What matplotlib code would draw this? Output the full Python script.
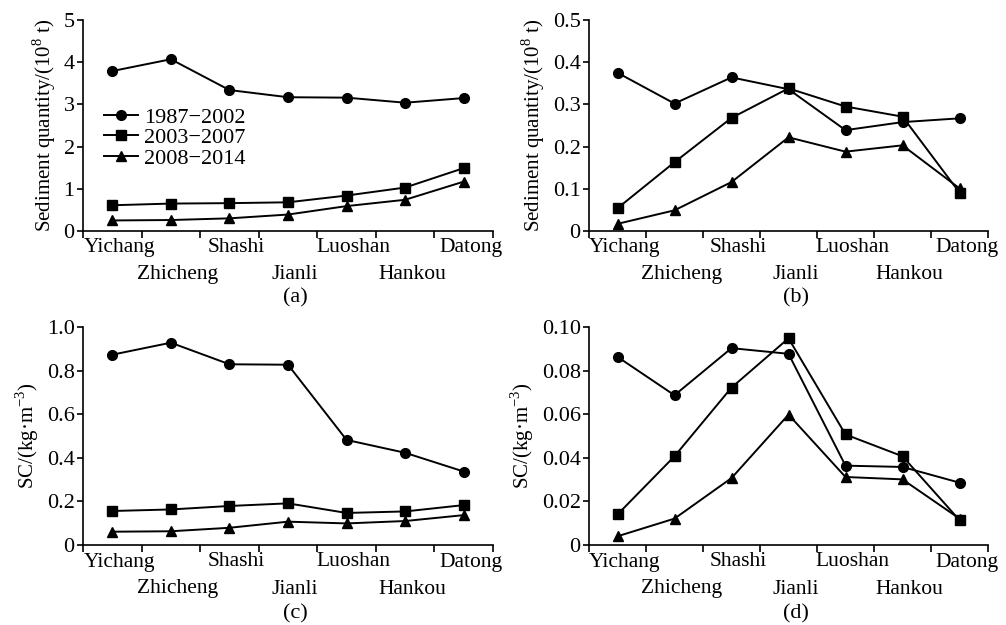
import matplotlib
matplotlib.use("Agg")
import matplotlib.pyplot as plt
import matplotlib.transforms as mtransforms

plt.rcParams['font.family'] = ['Liberation Serif', 'DejaVu Serif']
plt.rcParams['mathtext.fontset'] = 'custom'
plt.rcParams['mathtext.rm'] = 'Liberation Serif'

stations = ["Yichang", "Zhicheng", "Shashi", "Jianli", "Luoshan", "Hankou", "Datong"]
periods = ["1987\u22122002", "2003\u22122007", "2008\u22122014"]

# (a) main channel sediment quantity (10^8 t)
a_1987 = [3.79, 4.07, 3.34, 3.17, 3.16, 3.04, 3.15]
a_2003 = [0.61, 0.65, 0.66, 0.68, 0.84, 1.03, 1.49]
a_2008 = [0.25, 0.26, 0.30, 0.39, 0.59, 0.74, 1.17]

# (b) sediment quantity (10^8 t)
b_1987 = [0.375, 0.302, 0.364, 0.336, 0.239, 0.258, 0.267]
b_2003 = [0.054, 0.163, 0.268, 0.338, 0.295, 0.271, 0.091]
b_2008 = [0.017, 0.049, 0.116, 0.222, 0.188, 0.203, 0.101]

# (c) SC (kg/m3)
c_1987 = [0.873, 0.928, 0.829, 0.827, 0.482, 0.423, 0.337]
c_2003 = [0.156, 0.163, 0.179, 0.191, 0.147, 0.154, 0.183]
c_2008 = [0.061, 0.063, 0.079, 0.107, 0.099, 0.110, 0.137]

# (d) SC (kg/m3)
d_1987 = [0.0863, 0.0687, 0.0903, 0.0877, 0.0364, 0.0358, 0.0286]
d_2003 = [0.0140, 0.0407, 0.0722, 0.0948, 0.0507, 0.0407, 0.0114]
d_2008 = [0.0040, 0.0121, 0.0307, 0.0598, 0.0312, 0.0301, 0.0121]

a_ticks = [0, 1, 2, 3, 4, 5]
a_ticklabels = ["0", "1", "2", "3", "4", "5"]
b_ticks = [0, 0.1, 0.2, 0.3, 0.4, 0.5]
b_ticklabels = ["0", "0.1", "0.2", "0.3", "0.4", "0.5"]
c_ticks = [0, 0.2, 0.4, 0.6, 0.8, 1.0]
c_ticklabels = ["0", "0.2", "0.4", "0.6", "0.8", "1.0"]
d_ticks = [0, 0.02, 0.04, 0.06, 0.08, 0.10]
d_ticklabels = ["0", "0.02", "0.04", "0.06", "0.08", "0.10"]

ylab_q = "Sediment quantity/(10$^{8}$ t)"
ylab_sc = "SC/(kg\u00b7m$^{-3}$)"

W, H = 1006, 625
fig = plt.figure(figsize=(W / 100, H / 100), dpi=100)

def rect(l, r, t, b):
    return [l / W, 1 - b / H, (r - l) / W, (b - t) / H]

panels = [
    (rect(83, 493, 20, 231), (a_1987, a_2003, a_2008), a_ticks, a_ticklabels, ylab_q, "(a)", 298),
    (rect(589, 988, 20, 231), (b_1987, b_2003, b_2008), b_ticks, b_ticklabels, ylab_q, "(b)", 298),
    (rect(83, 493, 327, 545), (c_1987, c_2003, c_2008), c_ticks, c_ticklabels, ylab_sc, "(c)", 614),
    (rect(589, 988, 327, 545), (d_1987, d_2003, d_2008), d_ticks, d_ticklabels, ylab_sc, "(d)", 614),
]

markers = ["o", "s", "^"]
xs = [i + 0.5 for i in range(len(stations))]

for idx, (pos, series, yt, ytl, ylab, cap, capy) in enumerate(panels):
    ax = fig.add_axes(pos)
    for vals, m, lab in zip(series, markers, periods):
        ax.plot(xs, vals, color="black", lw=1.4, marker=m, ms=7 if m != "^" else 7.5,
                label=lab)
    ax.set_xlim(0, len(stations))
    ax.set_ylim(yt[0], yt[-1])
    ax.set_yticks(yt)
    ax.set_yticklabels(ytl, fontsize=16)
    ax.set_xticks(range(len(stations) + 1))
    ax.set_xticklabels([])
    ax.tick_params(axis="x", which="major", direction="out", length=5, width=1.2)
    ax.tick_params(axis="y", direction="out", length=4, width=1.2, pad=2)
    # staggered station labels (two rows), positioned with the x data scale
    for i, (x, s) in enumerate(zip(xs, stations)):
        dy = -17 if i % 2 == 0 else -44
        tr = ax.get_xaxis_transform() + mtransforms.ScaledTranslation(7 / 100, dy / 100, fig.dpi_scale_trans)
        ax.text(x, 0, s, transform=tr, ha="center", va="center", fontsize=15.5, clip_on=False)
    for s in ["top", "right"]:
        ax.spines[s].set_visible(False)
    for s in ["left", "bottom"]:
        ax.spines[s].set_linewidth(1.2)
    ax.set_ylabel(ylab, fontsize=15, labelpad=4)
    bb = ax.get_position()
    fig.text(bb.x0 + bb.width / 2 + 7 / W, 1 - capy / H, cap, ha="center", va="center", fontsize=16)
    if idx == 0:
        ax.legend(loc="upper left", bbox_to_anchor=(0.03, 0.63), frameon=False,
                  fontsize=16, handlelength=1.5, handletextpad=0.3, labelspacing=0.0,
                  borderaxespad=0)

fig.savefig("out.png", dpi=100)
